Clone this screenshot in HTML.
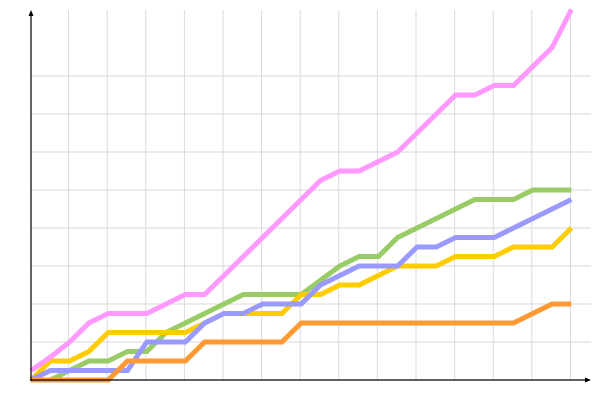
<!DOCTYPE html>
<html><head><meta charset="utf-8"><style>html,body{margin:0;padding:0;background:#fff;}svg{display:block}</style></head>
<body>
<svg id="c" width="600" height="400" xmlns="http://www.w3.org/2000/svg"></svg>
<script>
var s=document.getElementById('c'),h='';
for(var k=1;k<=14;k++){var x=30+38.6*k;h+='<line x1="'+x+'" y1="10" x2="'+x+'" y2="380" stroke="#dadada" stroke-width="1"/>';}
for(var k=1;k<=8;k++){var y=380-38*k;h+='<line x1="31" y1="'+y+'" x2="591" y2="'+y+'" stroke="#dadada" stroke-width="1"/>';}
var S=[
['#99cc66',[0,0,1,2,2,3,3,5,6,7,8,9,9,9,9,10.5,12,13,13,15,16,17,18,19,19,19,20,20,20]],
['#ffcc00',[0,2,2,3,5,5,5,5,5,6,7,7,7,7,9,9,10,10,11,12,12,12,13,13,13,14,14,14,16]],
['#9999ff',[0,1,1,1,1,1,4,4,4,6,7,7,8,8,8,10,11,12,12,12,14,14,15,15,15,16,17,18,19]],
['#ff9933',[0,0,0,0,0,2,2,2,2,4,4,4,4,4,6,6,6,6,6,6,6,6,6,6,6,6,7,8,8]],
['#ff99ff',[1,2.4,4,6,7,7,7,8,9,9,11,13,15,17,19,21,22,22,23,24,26,28,30,30,31,31,33,35,39]]
];
S.forEach(function(a){var p=a[1].map(function(v,i){return (31+19.3*i).toFixed(1)+','+(380-v*9.5).toFixed(1);}).join(' ');
h+='<polyline points="'+p+'" fill="none" stroke="'+a[0]+'" stroke-width="5" stroke-linejoin="miter"/>';});
h+='<line x1="31" y1="12" x2="31" y2="381" stroke="#000" stroke-width="1.2"/>';
h+='<line x1="30" y1="380" x2="589" y2="380" stroke="#000" stroke-width="1.2"/>';
h+='<polygon points="31,10 28.5,16 33.5,16" fill="#000"/>';
h+='<polygon points="591,380 585,377.5 585,382.5" fill="#000"/>';
s.innerHTML=h;
</script>
</body></html>
